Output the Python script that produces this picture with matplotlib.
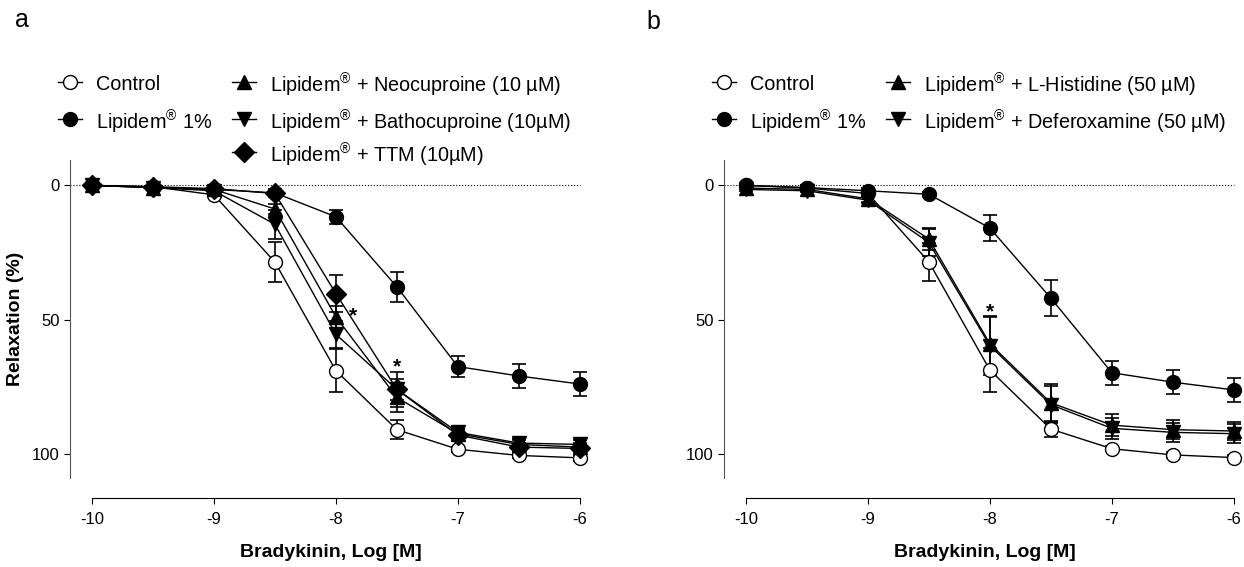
import matplotlib
matplotlib.use("Agg")
import matplotlib.pyplot as plt
from matplotlib.lines import Line2D

plt.rcParams['font.family'] = ['Liberation Sans', 'DejaVu Sans']
plt.rcParams['mathtext.fontset'] = 'custom'
plt.rcParams['mathtext.rm'] = 'Liberation Sans'

# log [bradykinin]
logc = [-10, -9.5, -9, -8.5, -8, -7.5, -7, -6.5, -6]

# panel a
a_control = [0, 0.5, 3.5, 28.6, 69, 91, 98.3, 100.6, 101.5]
a_control_err = [0.5, 0.5, 1, 7.5, 8, 3.5, 1, 1, 1]
a_lipidem = [0, 0.8, 1.5, 2.8, 11.7, 37.8, 67.5, 71, 74]
a_lipidem_err = [0.5, 0.5, 1, 1, 2.5, 5.5, 4, 4.5, 4.5]
a_neo = [0, 0.8, 1.5, 8.8, 49, 79, 92.5, 96.5, 97.5]
a_neo_err = [0.5, 0.5, 1, 2, 4, 5.5, 2, 1.5, 1.5]
a_batho = [0, 0.8, 2, 14.5, 55.5, 76, 92, 96, 96.5]
a_batho_err = [0.5, 0.5, 1, 5.5, 5, 4, 2, 1.5, 1.5]
a_ttm = [0, 0.5, 1.2, 3, 40.3, 76, 93, 97.5, 98]
a_ttm_err = [0.5, 0.5, 1, 1.5, 7, 6.5, 2, 1.5, 1.5]
a_stars_x = [-7.86, -7.5]
a_stars_y = [48.5, 67.5]

# panel b
b_control = [0, 1, 3, 28.5, 68.8, 90.8, 98.1, 100.4, 101.4]
b_control_err = [0.5, 0.5, 1, 7, 8.2, 3, 1, 1, 1]
b_lipidem = [0, 0.8, 2, 3.3, 15.9, 42, 69.8, 73.3, 76.2]
b_lipidem_err = [0.5, 0.5, 1, 1, 5, 6.6, 4.4, 4.5, 4.5]
b_hist = [1, 1.5, 5, 20, 59, 81, 89.3, 91, 91.5]
b_hist_err = [0.5, 0.5, 1, 4, 10, 7, 4, 3.5, 3.5]
b_defer = [1.5, 2, 5.5, 21.3, 59.7, 81.7, 90.5, 92, 92.5]
b_defer_err = [0.5, 0.5, 1, 5, 11, 7, 4, 3.5, 3.5]
b_stars_x = [-8]
b_stars_y = [47]

R = r'Lipidem$^{\mathrm{®}}$'


def draw(ax, y, err, marker, open_=False):
    fc = 'white' if open_ else 'black'
    ax.errorbar(logc, y, yerr=err, fmt='-', marker=marker, color='black', mfc=fc, mec='black',
                ms=10, lw=1, elinewidth=1.2, capsize=5, capthick=1.2, clip_on=False)


def style(ax):
    ax.set_xlim(-10.18, -5.9)
    ax.set_ylim(109, -9.5)
    ax.hlines(0, -10.18, -6, colors='black', linestyles=':', lw=0.8, zorder=0)
    ax.spines['top'].set_visible(False)
    ax.spines['right'].set_visible(False)
    ax.spines['bottom'].set_position(('outward', 14.4))
    ax.spines['bottom'].set_bounds(-10, -6)
    ax.spines['left'].set_color('#555555')
    ax.set_xticks([-10, -9, -8, -7, -6])
    ax.set_xticklabels(['-10', '-9', '-8', '-7', '-6'])
    ax.set_yticks([0, 50, 100])
    ax.tick_params(labelsize=12, length=4)
    ax.tick_params(axis='x', pad=6)
    ax.set_xlabel('Bradykinin, Log [M]', fontsize=14, fontweight='bold', labelpad=12)


fig = plt.figure(figsize=(12.44, 5.67), dpi=100)
W, H = 1244.0, 567.0
ax1 = fig.add_axes([0.0563, 0.157, 0.4196, 0.561])
ax2 = fig.add_axes([0.582, 0.157, 0.4196, 0.561])

draw(ax1, a_control, a_control_err, 'o', True)
draw(ax1, a_lipidem, a_lipidem_err, 'o')
draw(ax1, a_neo, a_neo_err, '^')
draw(ax1, a_batho, a_batho_err, 'v')
draw(ax1, a_ttm, a_ttm_err, 'D')
for x, y in zip(a_stars_x, a_stars_y):
    ax1.text(x, y, '*', fontsize=15, fontweight='bold', ha='center', va='center')
style(ax1)
ax1.set_ylabel('Relaxation (%)', fontsize=14, fontweight='bold', labelpad=6)

draw(ax2, b_control, b_control_err, 'o', True)
draw(ax2, b_lipidem, b_lipidem_err, 'o')
draw(ax2, b_hist, b_hist_err, '^')
draw(ax2, b_defer, b_defer_err, 'v')
for x, y in zip(b_stars_x, b_stars_y):
    ax2.text(x, y, '*', fontsize=15, fontweight='bold', ha='center', va='center')
style(ax2)


# legend entries drawn by hand so rows line up across the two columns
def entry(xpx, ypx, marker, label, open_=False):
    x, y = xpx / W, 1 - ypx / H
    fig.add_artist(Line2D([x - 12 / W, x + 12 / W], [y, y], transform=fig.transFigure,
                          color='black', lw=1))
    fig.add_artist(Line2D([x], [y], transform=fig.transFigure, marker=marker, ms=10,
                          color='black', mfc='white' if open_ else 'black', mec='black'))
    fig.text(x + 26 / W, y, label, fontsize=14.3, va='center_baseline', ha='left')


rows = [82, 119, 152]
entry(70, rows[0], 'o', 'Control', True)
entry(70, rows[1], 'o', R + ' 1%')
entry(244, rows[0], '^', R + ' + Neocuproine (10 µM)')
entry(244, rows[1], 'v', R + ' + Bathocuproine (10µM)')
entry(244, rows[2], 'D', R + ' + TTM (10µM)')

entry(724, rows[0], 'o', 'Control', True)
entry(724, rows[1], 'o', R + ' 1%')
entry(898, rows[0], '^', R + ' + L-Histidine (50 µM)')
entry(898, rows[1], 'v', R + ' + Deferoxamine (50 µM)')

fig.text(0.012, 0.965, 'a', fontsize=18, va='center')
fig.text(0.52, 0.962, 'b', fontsize=18, va='center')

fig.savefig('out.png', dpi=100)
